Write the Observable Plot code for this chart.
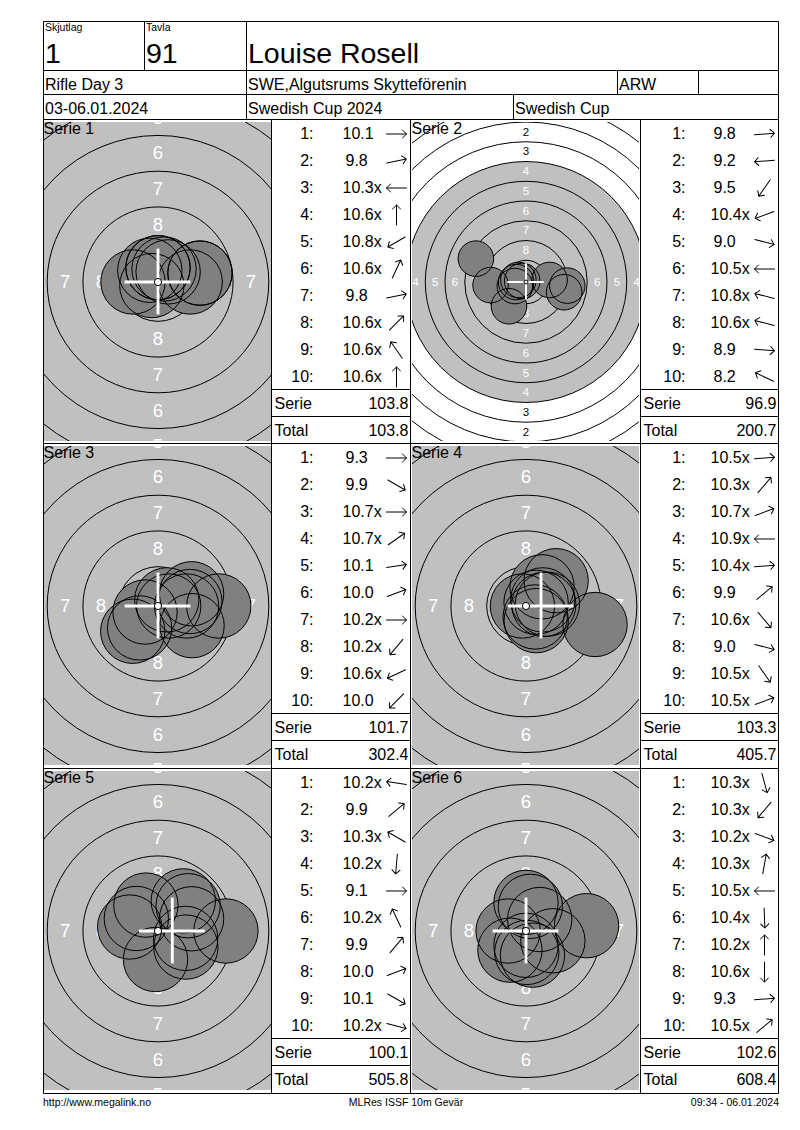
<!DOCTYPE html>
<html>
<head>
<meta charset="utf-8">
<script src="https://cdn.jsdelivr.net/npm/d3@7"></script>
<script src="https://cdn.jsdelivr.net/npm/@observablehq/plot@0.6"></script>
<style>
html,body{margin:0;padding:0;background:#fff;}
#page{position:relative;width:800px;height:1130px;overflow:hidden;font-family:"Liberation Sans",Arial,sans-serif;}
.cell{position:absolute;overflow:hidden;}
.cell svg{display:block;max-width:none;}
#overlay{position:absolute;left:0;top:0;pointer-events:none;}
</style>
</head>
<body>
<div id="page"></div>
<script>
// ---------------- DATA ----------------
const headerLabels = ["Skjutlag", "Tavla"];
const headerValues = ["1", "91"];
const shooterName = "Louise Rosell";
const eventName = "Rifle Day 3";
const clubName = "SWE,Algutsrums Skytteförenin";
const shooterClass = "ARW";
const eventDates = "03-06.01.2024";
const competition = "Swedish Cup 2024";
const cupName = "Swedish Cup";
const footerTexts = ["http://www.megalink.no", "MLRes ISSF 10m Gevär", "09:34 - 06.01.2024"];

const serieTitles = ["Serie 1", "Serie 2", "Serie 3", "Serie 4", "Serie 5", "Serie 6"];
const shotNumbers = ["1:", "2:", "3:", "4:", "5:", "6:", "7:", "8:", "9:", "10:"];

// shot scores as printed, and shot direction (degrees, 0 = right, 90 = up) read from the arrows
const scores1 = ["10.1", "9.8", "10.3x", "10.6x", "10.8x", "10.6x", "9.8", "10.6x", "10.6x", "10.6x"];
const dirs1 = [0, 12, 180, 90, 210, 65, 12, 45, 125, 90];
const scores2 = ["9.8", "9.2", "9.5", "10.4x", "9.0", "10.5x", "10.8x", "10.6x", "8.9", "8.2"];
const dirs2 = [5, 185, 235, 200, 345, 180, 165, 165, 355, 155];
const scores3 = ["9.3", "9.9", "10.7x", "10.7x", "10.1", "10.0", "10.2x", "10.2x", "10.6x", "10.0"];
const dirs3 = [0, 330, 0, 35, 8, 20, 0, 230, 205, 225];
const scores4 = ["10.5x", "10.3x", "10.7x", "10.9x", "10.4x", "9.9", "10.6x", "9.0", "10.5x", "10.5x"];
const dirs4 = [5, 50, 20, 180, 5, 40, 310, 345, 305, 20];
const scores5 = ["10.2x", "9.9", "10.3x", "10.2x", "9.1", "10.2x", "9.9", "10.0", "10.1", "10.2x"];
const dirs5 = [172, 40, 150, 265, 0, 115, 50, 20, 330, 345];
const scores6 = ["10.3x", "10.3x", "10.2x", "10.3x", "10.5x", "10.4x", "10.2x", "10.6x", "9.3", "10.5x"];
const dirs6 = [285, 230, 340, 80, 180, 272, 90, 270, 5, 40];

const serieSums = ["103.8", "96.9", "101.7", "103.3", "100.1", "102.6"];
const runningTotals = ["103.8", "200.7", "302.4", "405.7", "505.8", "608.4"];

// mean point of impact marker (mm) as drawn
const mpiX = [0, 0, 0, 1.05, 1.0, 0];
const mpiY = [0, 0, 0, 0, 0, 0];

// ISSF 10 m air rifle target geometry (mm)
const ringValues = [1, 2, 3, 4, 5, 6, 7, 8, 9, 10];
const ringRadiiMm = [22.75, 20.25, 17.75, 15.25, 12.75, 10.25, 7.75, 5.25, 2.75, 0.25];
const aimingMarkMm = 15.25;
const pelletRadiusMm = 2.25;

// ---------------- LAYOUT / STYLE ----------------
const FONT = "'Liberation Sans', Arial, sans-serif";
const pxPerMm = [14.3, 7.9, 14.3, 14.3, 14.3, 14.3];
const rowTops = [120, 444, 769];
const colTargetLeft = [44, 412];
const colTableLeft = [272, 641];
const tableW = [138, 137];
const numDx = [41, 44];
const scoreDx = [70, 69];
const arrowDx = [124, 123];
const TW = 227, TH = 319;

const scoresAll = [scores1, scores2, scores3, scores4, scores5, scores6];
const dirsAll = [dirs1, dirs2, dirs3, dirs4, dirs5, dirs6];

const page = document.getElementById("page");

function place(node, left, top, w, h) {
  const div = document.createElement("div");
  div.className = "cell";
  div.style.left = left + "px";
  div.style.top = top + "px";
  div.style.width = w + "px";
  div.style.height = h + "px";
  div.appendChild(node);
  page.appendChild(div);
}

function targetPlot(i) {
  const k = pxPerMm[i];
  const hw = TW / 2 / k, hh = TH / 2 / k;
  const shots = scoresAll[i].map((lab, j) => {
    const s = parseFloat(lab);
    const d = Math.max(0, (11 - s) * 2.5);
    const a = dirsAll[i][j] * Math.PI / 180;
    return {x: d * Math.cos(a), y: d * Math.sin(a), r: pelletRadiusMm};
  });
  const rings = ringValues.slice(0, 9).map((v, j) => ({x: 0, y: 0, r: ringRadiiMm[j]}));
  const labelsW = [], labelsB = [];
  for (let j = 0; j < 8; j++) {
    const rho = (ringRadiiMm[j] + ringRadiiMm[j + 1]) / 2;
    const arr = ringRadiiMm[j] <= aimingMarkMm ? labelsW : labelsB;
    for (const [ux, uy] of [[0, 1], [0, -1], [-1, 0], [1, 0]]) {
      arr.push({x: ux * rho, y: uy * rho, text: String(ringValues[j])});
    }
  }
  const fs = Math.max(11.5, 1.3 * k);
  const cw = Math.max(2, 0.2 * k);
  const crossArm = 2.3;
  const mx = mpiX[i], my = mpiY[i];
  return Plot.plot({
    width: TW, height: TH, margin: 0,
    x: {domain: [-hw, hw], axis: null},
    y: {domain: [-hh, hh], axis: null},
    r: {type: "linear", domain: [0, 1], range: [0, k]},
    style: {fontFamily: FONT, background: "white", overflow: "hidden"},
    marks: [
      Plot.dot([{x: 0, y: 0, r: aimingMarkMm}], {x: "x", y: "y", r: "r", fill: "#c0c0c0", stroke: "none"}),
      Plot.dot(rings, {x: "x", y: "y", r: "r", fill: "none", stroke: "black", strokeWidth: 1}),
      Plot.text(labelsW, {x: "x", y: "y", text: "text", fill: "white", fontSize: fs}),
      Plot.text(labelsB, {x: "x", y: "y", text: "text", fill: "black", fontSize: fs}),
      Plot.dot(shots, {x: "x", y: "y", r: "r", fill: "#808080", stroke: "none"}),
      Plot.dot(shots, {x: "x", y: "y", r: "r", fill: "none", stroke: "black", strokeWidth: 1}),
      Plot.ruleY([{y: my, x1: mx - crossArm, x2: mx + crossArm}], {y: "y", x1: "x1", x2: "x2", stroke: "white", strokeWidth: cw}),
      Plot.ruleX([{x: mx, y1: my - crossArm, y2: my + crossArm}], {x: "x", y1: "y1", y2: "y2", stroke: "white", strokeWidth: cw}),
      Plot.dot([{x: 0, y: 0, r: ringRadiiMm[9]}], {x: "x", y: "y", r: "r", fill: "white", stroke: "black", strokeWidth: 1}),
      Plot.text([serieTitles[i]], {frameAnchor: "top-left", text: d => d, textAnchor: "start", lineAnchor: "top", dx: -1, dy: 0, fontSize: 16, fill: "black"})
    ]
  });
}

function tablePlot(i, c) {
  const rows = shotNumbers.map((n, j) => ({row: n, score: scoresAll[i][j], angle: dirsAll[i][j]}));
  const sums = [{row: "Serie", value: serieSums[i]}, {row: "Total", value: runningTotals[i]}];
  return Plot.plot({
    width: tableW[c], height: 324, margin: 0,
    y: {type: "band", domain: [...shotNumbers, "Serie", "Total"], range: [0, 324], padding: 0, axis: null},
    style: {fontFamily: FONT, background: "white", fontSize: "16px"},
    marks: [
      Plot.text(rows, {y: "row", text: "row", frameAnchor: "left", dx: numDx[c], textAnchor: "end", fontSize: 16, fill: "black"}),
      Plot.text(rows, {filter: d => parseFloat(d.score) >= 10, y: "row", text: "score", frameAnchor: "left", dx: scoreDx[c], textAnchor: "start", fontSize: 16, fill: "black"}),
      Plot.text(rows, {filter: d => parseFloat(d.score) < 10, y: "row", text: "score", frameAnchor: "left", dx: scoreDx[c] + 3, textAnchor: "start", fontSize: 16, fill: "black"}),
      Plot.vector(rows, {y: "row", frameAnchor: "left", dx: arrowDx[c], length: 20, rotate: d => 90 - d.angle, anchor: "middle", stroke: "black", strokeWidth: 1}),
      Plot.text(sums, {y: "row", text: "row", frameAnchor: "left", dx: 2, textAnchor: "start", fontSize: 16, fill: "black"}),
      Plot.text(sums, {y: "row", text: "value", frameAnchor: "right", dx: -2, textAnchor: "end", fontSize: 16, fill: "black"})
    ]
  });
}

for (let i = 0; i < 6; i++) {
  const r = Math.floor(i / 2), c = i % 2;
  place(targetPlot(i), colTargetLeft[c], rowTops[r] + 2, TW, TH);
  place(tablePlot(i, c), colTableLeft[c], rowTops[r], tableW[c], 324);
}

// ---------------- OVERLAY: table frame + header text ----------------
const svgNS = "http://www.w3.org/2000/svg";
const ov = document.createElementNS(svgNS, "svg");
ov.setAttribute("id", "overlay");
ov.setAttribute("width", 800);
ov.setAttribute("height", 1130);
page.appendChild(ov);
function line(x1, y1, x2, y2) {
  const l = document.createElementNS(svgNS, "line");
  l.setAttribute("x1", x1); l.setAttribute("y1", y1);
  l.setAttribute("x2", x2); l.setAttribute("y2", y2);
  l.setAttribute("stroke", "black"); l.setAttribute("stroke-width", 1);
  ov.appendChild(l);
}
function text(str, x, y, size, anchor) {
  const t = document.createElementNS(svgNS, "text");
  t.setAttribute("x", x); t.setAttribute("y", y);
  t.setAttribute("font-size", size);
  t.setAttribute("font-family", FONT);
  t.setAttribute("text-anchor", anchor || "start");
  t.textContent = str;
  ov.appendChild(t);
}
const L = 43.5, R = 778.5, B = 1093.5;
[21.5, 70.5, 94.5, 119.5, 443.5, 768.5, B].forEach(y => line(L, y, R, y));
line(L, 21.5, L, B); line(R, 21.5, R, B);
line(144.5, 21.5, 144.5, 70.5);
line(246.5, 21.5, 246.5, 119.5);
line(617.5, 70.5, 617.5, 94.5);
line(698.5, 70.5, 698.5, 94.5);
line(513.5, 94.5, 513.5, 119.5);
[271.5, 410.5, 640.5].forEach(x => line(x, 119.5, x, B));
rowTops.forEach(t => {
  [[271.5, 410.5], [640.5, R]].forEach(([a, b]) => {
    line(a, t + 269.5, b, t + 269.5);
    line(a, t + 296.5, b, t + 296.5);
  });
});
text(headerLabels[0], 45, 31, 10.5);
text(headerLabels[1], 146, 31, 10.5);
text(headerValues[0], 45, 63, 28.5);
text(headerValues[1], 146, 63, 28.5);
text(shooterName, 248, 63, 28.5);
text(eventName, 45, 89.5, 16);
text(clubName, 248, 89.5, 16);
text(shooterClass, 619, 89.5, 16);
text(eventDates, 45, 114, 16);
text(competition, 248, 114, 16);
text(cupName, 515, 114, 16);
text(footerTexts[0], 43, 1106, 10.5);
text(footerTexts[1], 406, 1106, 10.5, "middle");
text(footerTexts[2], 779, 1106, 10.5, "end");
</script>
</body>
</html>
